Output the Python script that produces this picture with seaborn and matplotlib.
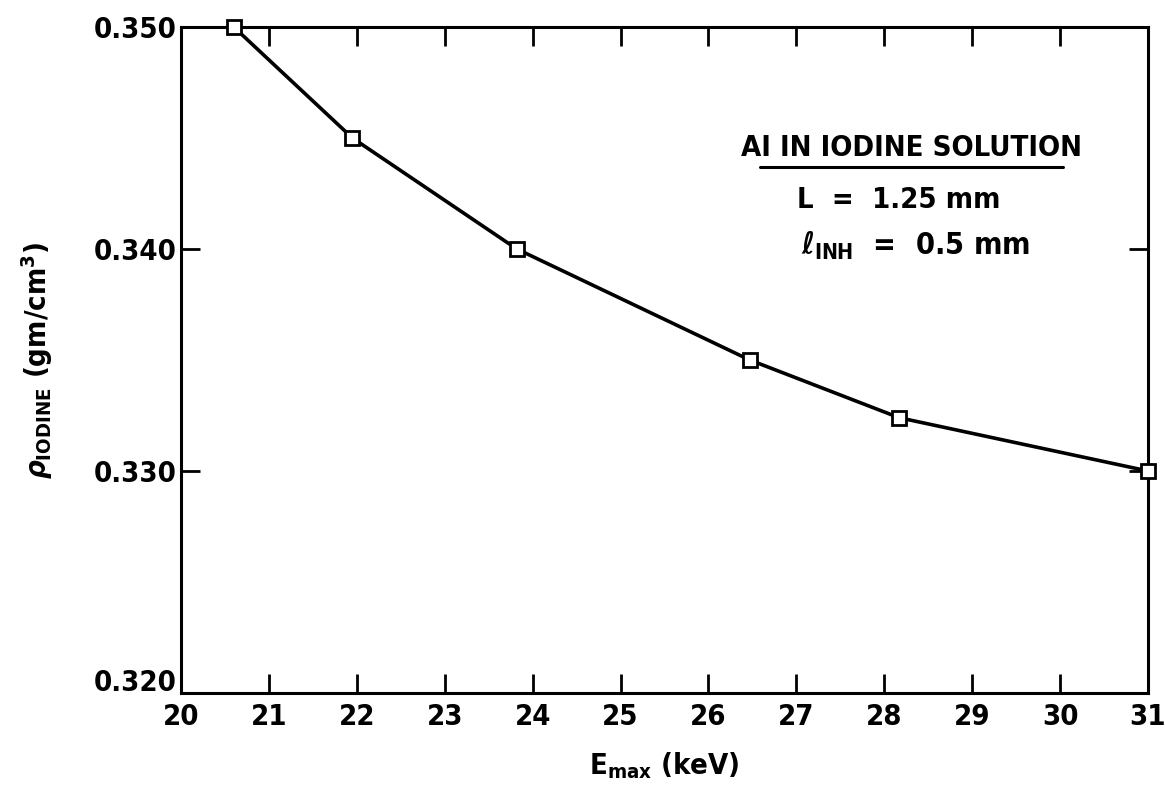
import matplotlib
matplotlib.use("Agg")
import matplotlib.pyplot as plt
import matplotlib.transforms as mtransforms
import seaborn as sns
import pandas as pd
from matplotlib.lines import Line2D

# Measured iodine density versus maximum beam energy
e_max_kev = [20.6, 21.95, 23.82, 26.47, 28.17, 31.0]
rho_iodine = [0.350, 0.345, 0.340, 0.335, 0.3324, 0.330]

x_ticks = list(range(20, 32))
y_ticks = [0.320, 0.330, 0.340, 0.350]
y_tick_labels = ["0.320", "0.330", "0.340", "0.350"]

sns.set_theme(style="white")
plt.rcParams["font.family"] = ["DejaVu Sans"]
plt.rcParams["font.stretch"] = "condensed"
plt.rcParams["font.weight"] = "bold"
plt.rcParams["text.color"] = "black"
plt.rcParams["axes.labelcolor"] = "black"
plt.rcParams["mathtext.fontset"] = "custom"
plt.rcParams["mathtext.rm"] = "DejaVu Sans:weight=bold:stretch=condensed"
plt.rcParams["mathtext.it"] = "DejaVu Sans:style=italic:weight=bold:stretch=condensed"
plt.rcParams["mathtext.bf"] = "DejaVu Sans:weight=bold:stretch=condensed"

df = pd.DataFrame({"E": e_max_kev, "rho": rho_iodine})

fig = plt.figure(figsize=(11.65, 7.97), dpi=100)
ax = fig.add_axes([0.1554, 0.1305, 0.830, 0.8356])

sns.lineplot(data=df, x="E", y="rho", ax=ax, color="black", linewidth=2.6,
             marker="s", markersize=10, markerfacecolor="white",
             markeredgecolor="black", markeredgewidth=2.0, clip_on=False,
             zorder=3)

ax.set_xlim(20, 31)
ax.set_ylim(0.320, 0.350)
ax.set_xticks(x_ticks)
ax.set_yticks(y_ticks)
ax.set_yticklabels(y_tick_labels)

for side in ax.spines.values():
    side.set_color("black")
    side.set_linewidth(2.2)

ax.tick_params(axis="both", direction="in", length=14, width=2,
               colors="black", labelsize=21,
               top=True, right=True, bottom=True, left=True)
ax.tick_params(axis="x", pad=7)
ax.tick_params(axis="y", pad=3)
for lbl in ax.get_xticklabels() + ax.get_yticklabels():
    lbl.set_fontweight("bold")

# lift the bottom y label clear of the first x label
lowest = ax.get_yticklabels()[0]
lowest.set_transform(lowest.get_transform() +
                     mtransforms.ScaledTranslation(0, 9 / 72, fig.dpi_scale_trans))

ax.set_xlabel(r"E$_{\mathrm{max}}$ (keV)", fontsize=21, fontweight="bold",
              labelpad=14)
ax.set_ylabel(r"$\it{\rho}_{\mathrm{IODINE}}$ (gm/cm$^{3}$)", fontsize=21,
              fontweight="bold", labelpad=28)

# Description block
ax.text(0.755, 0.818, "AI IN IODINE SOLUTION", transform=ax.transAxes,
        ha="center", va="center", fontsize=21, fontweight="bold")
ax.add_line(Line2D([0.599, 0.912], [0.790, 0.790], transform=ax.transAxes,
                   color="black", linewidth=2.2))
ax.text(0.637, 0.740, "L  =  1.25 mm", transform=ax.transAxes,
        ha="left", va="center", fontsize=21, fontweight="bold")
ax.text(0.641, 0.672, r"$\it{\ell}_{\mathrm{INH}}$  =  0.5 mm",
        transform=ax.transAxes, ha="left", va="center", fontsize=22,
        fontweight="bold")

fig.savefig("out.png", dpi=100, facecolor="white")
